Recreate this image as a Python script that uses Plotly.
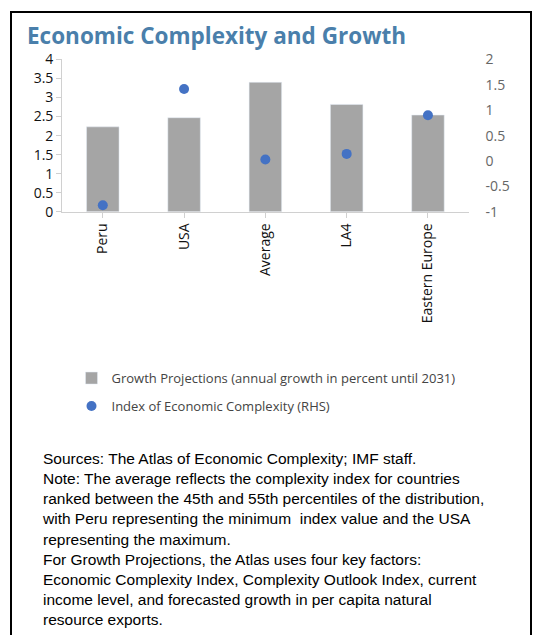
import plotly.graph_objects as go

# Economic complexity and growth chart

countries = ['Peru', 'USA', 'Average', 'LA4', 'Eastern Europe']
growth = [2.23, 2.47, 3.4, 2.82, 2.54]
complexity = [-0.87, 1.42, 0.03, 0.14, 0.9]
rhs_ticks = [-1, -0.5, 0, 0.5, 1, 1.5, 2]
rhs_labels = ['-1', '-0.5', '0', '0.5', '1', '1.5', '2']

notes = ("Sources: The Atlas of Economic Complexity; IMF staff.<br>"
         "Note: The average reflects the complexity index for countries<br>"
         "ranked between the 45th and 55th percentiles of the distribution,<br>"
         "with Peru representing the minimum  index value and the USA<br>"
         "representing the maximum.<br>"
         "For Growth Projections, the Atlas uses four key factors:<br>"
         "Economic Complexity Index, Complexity Outlook Index, current<br>"
         "income level, and forecasted growth in per capita natural<br>"
         "resource exports.")


def py(px):
    return 1 - px / 635


fig = go.Figure()
fig.add_trace(go.Bar(x=countries, y=growth, marker_color='#a5a5a5', width=0.4, legendgroup='a',
                     name='Growth Projections (annual growth in percent until 2031)'))
fig.add_trace(go.Scatter(x=countries, y=complexity, yaxis='y2', mode='markers', legendgroup='b',
                         marker=dict(color='#4472c4', size=10),
                         name='Index of Economic Complexity (RHS)'))

fig.update_layout(
    width=550, height=635, paper_bgcolor='white', plot_bgcolor='white',
    margin=dict(l=0, r=0, t=0, b=0),
    font=dict(family='Open Sans, sans-serif', size=13, color='#222'),
    showlegend=True,
    legend=dict(x=0.13, y=py(364), xanchor='left', yanchor='top', tracegroupgap=8,
                font=dict(size=13, color='#444'), itemwidth=30),
    xaxis=dict(domain=[0.113, 0.852], tickangle=-90, showline=True, linecolor='#d0d0d0',
               ticks='outside', tickcolor='#d0d0d0', tickfont=dict(size=14, color='#111')),
    yaxis=dict(domain=[py(208), py(51)], range=[0, 4], dtick=0.5, showgrid=False,
               showline=True, linecolor='#d0d0d0', ticks='outside', tickcolor='#d0d0d0',
               tickfont=dict(size=14, color='#111')),
    yaxis2=dict(overlaying='y', side='right', range=[-1, 2], tickvals=rhs_ticks,
                ticktext=rhs_labels, showgrid=False,
                zeroline=False, tickfont=dict(size=14, color='#666'), ticklabelstandoff=16),
    shapes=[dict(type='rect', xref='paper', yref='paper', x0=11/550, x1=531/550,
                 y0=-0.05, y1=py(2), line=dict(color='black', width=2))],
    annotations=[
        dict(text='<b>Economic Complexity and Growth</b>', xref='paper', yref='paper',
             x=25/550, y=py(8), xanchor='left', yanchor='top', showarrow=False,
             font=dict(size=22.5, color='#4a7fab')),
        dict(text=notes, xref='paper', yref='paper', x=40/550, y=py(452),
             xanchor='left', yanchor='top', align='left', showarrow=False,
             font=dict(family='Liberation Sans, Arial', size=15.5, color='black')),
    ],
)

fig.write_html("out.html", config={'displayModeBar': False})

# drop the default page margin so the figure sits at the window corner
with open("out.html") as f:
    page = f.read()
with open("out.html", "w") as f:
    f.write(page.replace("<body>", '<body style="margin:0">', 1))
